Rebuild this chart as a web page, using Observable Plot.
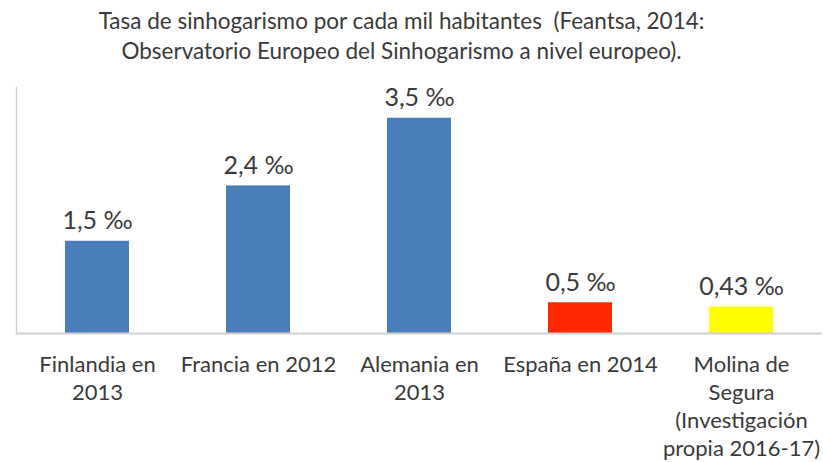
<!DOCTYPE html>
<html><head><meta charset="utf-8">
<script src="https://cdn.jsdelivr.net/npm/d3@7"></script>
<script src="https://cdn.jsdelivr.net/npm/@observablehq/plot@0.6"></script>
<style>
body{margin:0;background:#fff;font-family:Lato,"Open Sans",sans-serif;}
#title{width:823px;height:72px;box-sizing:border-box;padding-top:6px;padding-right:20px;text-align:center;font-size:22.5px;line-height:30px;color:#3a3a3a;white-space:nowrap;}
</style></head>
<body>
<div id="title">Tasa de sinhogarismo por cada mil habitantes&nbsp; (Feantsa, 2014:<br>Observatorio Europeo del Sinhogarismo a nivel europeo).</div>
<div id="chart"></div>
<script>
const categories = ["Finlandia en\n2013", "Francia en 2012", "Alemania en\n2013", "España en 2014", "Molina de\nSegura\n(Investigación\npropia 2016-17)"];
const values = [1.5, 2.4, 3.5, 0.5, 0.43];
const valueLabels = ["1,5 ‰", "2,4 ‰", "3,5 ‰", "0,5 ‰", "0,43 ‰"];
const colors = ["#4a7ebb", "#4a7ebb", "#4a7ebb", "#ff2a00", "#ffff00"];

const data = categories.map((c, i) => ({cat: c, v: values[i], label: valueLabels[i], color: colors[i]}));

const chart = Plot.plot({
  width: 823,
  height: 390,
  marginLeft: 16,
  marginRight: 1,
  marginTop: 15,
  marginBottom: 129,
  style: {fontFamily: "Lato, 'Open Sans', sans-serif", color: "#3a3a3a", background: "#fff"},
  x: {domain: categories, paddingInner: 0.6, paddingOuter: 0.3, axis: null},
  y: {domain: [0, 4], axis: null},
  marks: [
    Plot.frame({anchor: "left", stroke: "#d0d0d0", strokeWidth: 1.5}),
    Plot.barY(data, {x: "cat", y: "v", fill: "color"}),
    Plot.ruleY([0], {stroke: "#d0d0d0", strokeWidth: 2}),
    Plot.text(data, {x: "cat", y: "v", text: "label", dy: -20, fontSize: 25, fill: "#3a3a3a"}),
    Plot.text(data, {x: "cat", frameAnchor: "bottom", text: "cat", dy: 19, lineAnchor: "top", lineHeight: 1.27, fontSize: 22, fill: "#3a3a3a"})
  ]
});
document.getElementById("chart").appendChild(chart);
</script>
</body></html>
